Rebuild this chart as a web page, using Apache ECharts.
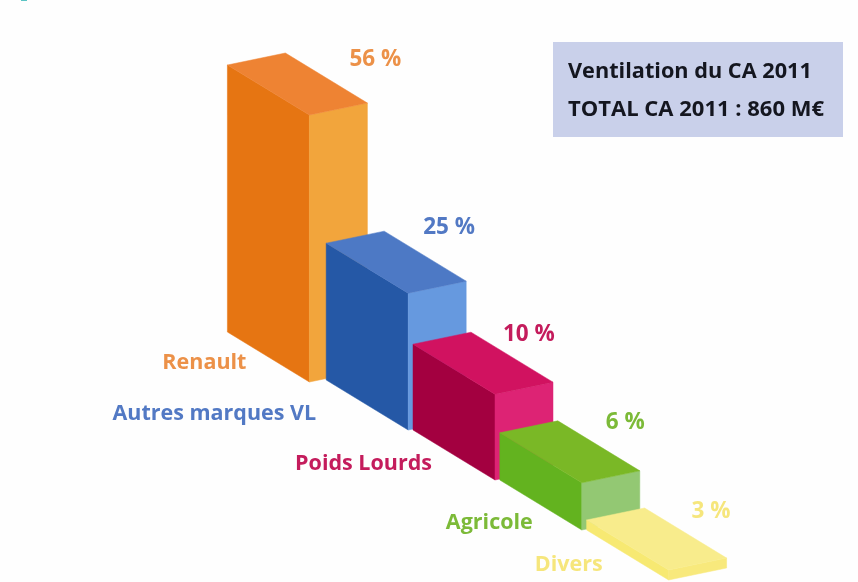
<!DOCTYPE html>
<html>
<head>
<meta charset="utf-8">
<title>Ventilation du CA 2011</title>
<style>
	html, body { margin: 0; padding: 0; background: #fefefe; }
	#chart { width: 858px; height: 582px; }
</style>
<script src="https://cdn.jsdelivr.net/npm/echarts@6/dist/echarts.min.js"></script>
</head>
<body>
<div id="chart"></div>
<script>
	var categories = ['Renault', 'Autres marques VL', 'Poids Lourds', 'Agricole', 'Divers'];
	// printed percentages
	var shares = [56, 25, 10, 6, 3];
	// block heights as drawn, read on the Renault scale (the picture is not proportional)
	var blockValues = [56, 28.7, 18, 9.9, 2.1];
	var boxLines = ['Ventilation du CA 2011', 'TOTAL CA 2011 : 860 M€'];

	var font = '"Open Sans", "Noto Sans", sans-serif';

	// left, top, right face + text colour
	var palette = [
		{ left: '#e67512', top: '#ee8333', right: '#f2a53c', label: '#ec9148' },
		{ left: '#2558a6', top: '#4d79c5', right: '#6699df', label: '#5279c4' },
		{ left: '#a30040', top: '#d11260', right: '#dd2374', label: '#c41c5c' },
		{ left: '#63b31f', top: '#7ab826', right: '#93c873', label: '#7cba38' },
		{ left: '#f7e972', top: '#f8ec8c', right: '#f8e97c', label: '#f6e67c' }
	];

	// stair steps down by this much per block
	var STAIR_Y = 50;
	var LEFT_EDGE = [-82, -50];
	var RIGHT_EDGE = [58, -12];
	// renault sits a bit off the stair line
	var nudge = [[-12, 2], [0, 0], [0, 0], [0, 0], [0, 0]];
	// text offsets from the front corner of each block
	var nameOffset = [[-63, -19], [-92, -16], [-63, -16], [-49, -7], [-66, -15]];
	var shareOffset = [[40, -55], [15, -66], [8, -60], [24, -60], [23, -58]];

	function face(points, color) {
		return {
			type: 'polygon',
			shape: { points: points },
			style: { fill: color, stroke: color, lineWidth: 0.5 }
		};
	}

	function renderBlock(params, api) {
		var i = api.value(0);
		var base = api.coord([i, 0]);
		var top = api.coord([i, api.value(1)]);
		var dx = nudge[i][0];
		var dy = i * STAIR_Y + nudge[i][1];
		var bx = base[0] + dx, by = base[1] + dy;
		var ty = top[1] + dy;
		var c = palette[i];
		var lx = LEFT_EDGE[0], ly = LEFT_EDGE[1];
		var rx = RIGHT_EDGE[0], ry = RIGHT_EDGE[1];

		return {
			type: 'group',
			children: [
				face([[bx, by], [bx + lx, by + ly], [bx + lx, ty + ly], [bx, ty]], c.left),
				face([[bx, by], [bx + rx, by + ry], [bx + rx, ty + ry], [bx, ty]], c.right),
				face([[bx, ty], [bx + lx, ty + ly], [bx + lx + rx, ty + ly + ry], [bx + rx, ty + ry]], c.top),
				{
					type: 'text',
					style: {
						text: categories[i],
						x: bx + nameOffset[i][0],
						y: by + nameOffset[i][1],
						fill: c.label,
						font: 'bold 21.5px ' + font,
						textAlign: 'right',
						textVerticalAlign: 'middle'
					}
				},
				{
					type: 'text',
					style: {
						text: shares[i] + ' %',
						x: bx + shareOffset[i][0],
						y: ty + shareOffset[i][1],
						fill: c.label,
						font: 'bold 22.5px ' + font,
						textAlign: 'left',
						textVerticalAlign: 'middle'
					}
				}
			]
		};
	}

	var chart = echarts.init(document.getElementById('chart'), null, { renderer: 'canvas' });

	chart.setOption({
		backgroundColor: '#fefefe',
		animation: false,
		grid: { left: 278, width: 434, top: 113, height: 267 },
		xAxis: { type: 'category', data: categories, show: false },
		yAxis: { type: 'value', min: 0, max: 56, show: false },
		graphic: [
			{ type: 'rect', left: 21, top: 0, shape: { width: 6, height: 1 }, style: { fill: '#5cc4c4' } },
			{ type: 'rect', left: 553, top: 42, shape: { width: 290, height: 95 }, style: { fill: '#c9d0ea' } },
			{ type: 'text', left: 568, top: 61, style: { text: boxLines[0], fill: '#14161f', font: 'bold 21.7px ' + font } },
			{ type: 'text', left: 568, top: 99, style: { text: boxLines[1], fill: '#14161f', font: 'bold 22px ' + font } }
		],
		series: [{
			type: 'custom',
			renderItem: renderBlock,
			clip: false,
			data: blockValues.map(function (v, i) { return [i, v]; }),
			encode: { x: 0, y: 1 }
		}]
	});
</script>
</body>
</html>
